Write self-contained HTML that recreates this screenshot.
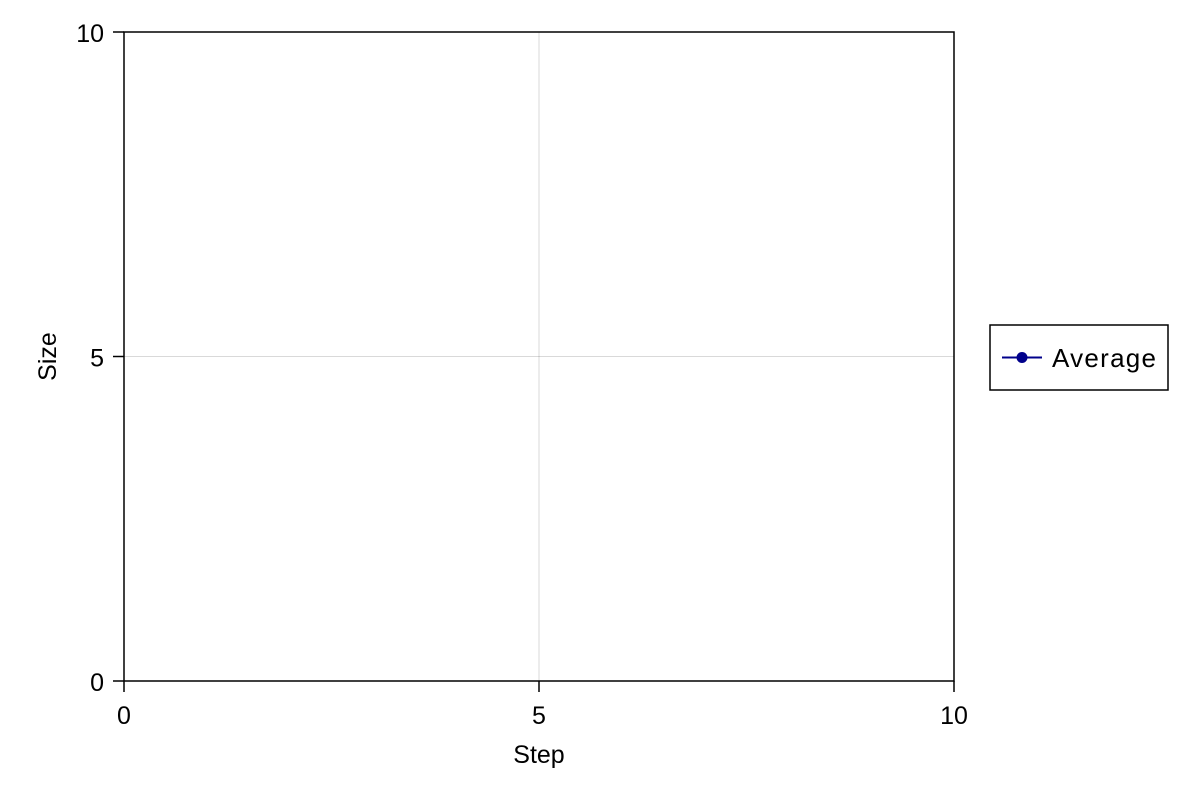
<!DOCTYPE html>
<html><head><meta charset="utf-8"><style>
html,body{margin:0;padding:0;background:#fff;}
svg{display:block;font-family:"Liberation Sans",sans-serif;}
</style></head><body>
<svg id="chart" width="1200" height="800"></svg>
<script>
const xTicks = [0, 5, 10];
const yTicks = [0, 5, 10];
const seriesX = [];
const seriesY = [];
const seriesName = "Average";

const NS = "http://www.w3.org/2000/svg";
const svg = document.getElementById("chart");
const L = 124, R = 954, T = 32, B = 681;
const xMin = 0, xMax = 10, yMin = 0, yMax = 10;
const sx = v => L + (v - xMin) / (xMax - xMin) * (R - L);
const sy = v => B - (v - yMin) / (yMax - yMin) * (B - T);
function mk(tag, attrs, parent) {
  const e = document.createElementNS(NS, tag);
  for (const k in attrs) e.setAttribute(k, attrs[k]);
  (parent || svg).appendChild(e);
  return e;
}
xTicks.forEach(v => {
  const g = mk("line", {x1: sx(v), x2: sx(v), y1: T, y2: B, stroke: "#000", "stroke-opacity": 0.15, "stroke-width": 1});
  
  
});
yTicks.forEach(v => {
  const g = mk("line", {x1: L, x2: R, y1: sy(v), y2: sy(v), stroke: "#000", "stroke-opacity": 0.15, "stroke-width": 1});
  
  
});
const frame = mk("rect", {x: L, y: T, width: R - L, height: B - T, fill: "none", stroke: "#000", "stroke-width": 1.5});


xTicks.forEach(v => {
  const t = mk("line", {x1: sx(v), x2: sx(v), y1: B, y2: B + 11, stroke: "#000", "stroke-width": 1.5});
  
  
  const l = mk("text", {x: sx(v), y: B + 43, "text-anchor": "middle", "font-size": 25});
  l.textContent = v;
  
  
});
yTicks.forEach(v => {
  const t = mk("line", {x1: L - 11, x2: L, y1: sy(v), y2: sy(v), stroke: "#000", "stroke-width": 1.5});
  
  
  const l = mk("text", {x: 104, y: sy(v) + 10, "text-anchor": "end", "font-size": 25});
  l.textContent = v;
  
  
});
const xt = mk("text", {x: (L + R) / 2, y: 763, "text-anchor": "middle", "font-size": 25});
xt.textContent = "Step";


const yt = mk("text", {x: 0, y: 0, "text-anchor": "middle", "font-size": 25, transform: `translate(56,${(T + B) / 2}) rotate(-90)`});
yt.textContent = "Size";


if (seriesX.length) {
  const pts = seriesX.map((x, i) => sx(x) + "," + sy(seriesY[i])).join(" ");
  const pl = mk("polyline", {points: pts, fill: "none", stroke: "#00008b", "stroke-width": 2});
  
  
  seriesX.forEach((x, i) => {
    const c = mk("circle", {cx: sx(x), cy: sy(seriesY[i]), r: 5, fill: "#00008b"});
    
    
  });
}
const lg = mk("g", {});


const lb = mk("rect", {x: 990, y: 325, width: 178, height: 65, fill: "#fff", stroke: "#000", "stroke-width": 1.5}, lg);


const ll = mk("line", {x1: 1002, x2: 1042, y1: 357.5, y2: 357.5, stroke: "#00008b", "stroke-width": 2}, lg);


const lc = mk("circle", {cx: 1022, cy: 357.5, r: 5.5, fill: "#00008b"}, lg);


const lt = mk("text", {x: 1052, y: 367, "font-size": 26, textLength: 104}, lg);
lt.textContent = seriesName;


</script>
</body></html>
